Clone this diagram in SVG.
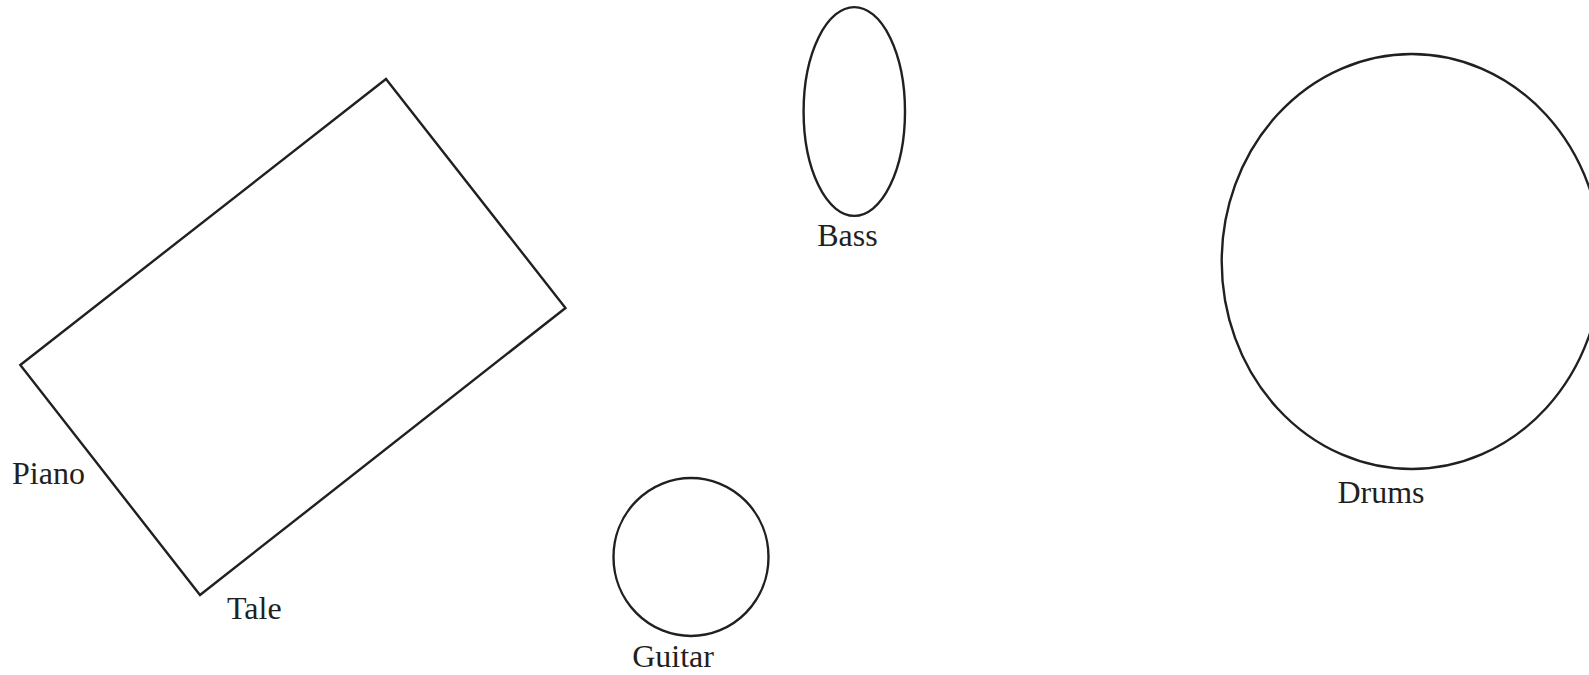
<svg xmlns="http://www.w3.org/2000/svg" width="1589" height="675" viewBox="0 0 1589 675">
<style>
.shape{fill:none;stroke:#231f20;stroke-width:2.4}
.lbl{font-family:"Liberation Serif","DejaVu Serif",serif;font-size:32px;fill:#231f20}
</style>
<rect width="1589" height="675" fill="#fff"/>
<g id="piano">
<polygon class="shape" points="386,79 565.5,308 200,595 20.3,365"/>
<text class="lbl" x="12" y="484">Piano</text>
<text class="lbl" x="227" y="619">Tale</text>
</g>
<g id="bass">
<ellipse class="shape" cx="854.3" cy="111.5" rx="50.7" ry="104.4"/>
<text class="lbl" x="847.5" y="246" text-anchor="middle">Bass</text>
</g>
<g id="guitar">
<ellipse class="shape" cx="691" cy="557" rx="77.5" ry="79"/>
<text class="lbl" x="673" y="667" text-anchor="middle">Guitar</text>
</g>
<g id="drums">
<ellipse class="shape" cx="1411.7" cy="261.5" rx="190" ry="207.5"/>
<text class="lbl" x="1381" y="503" text-anchor="middle">Drums</text>
</g>
<g id="connectors"/>
</svg>
